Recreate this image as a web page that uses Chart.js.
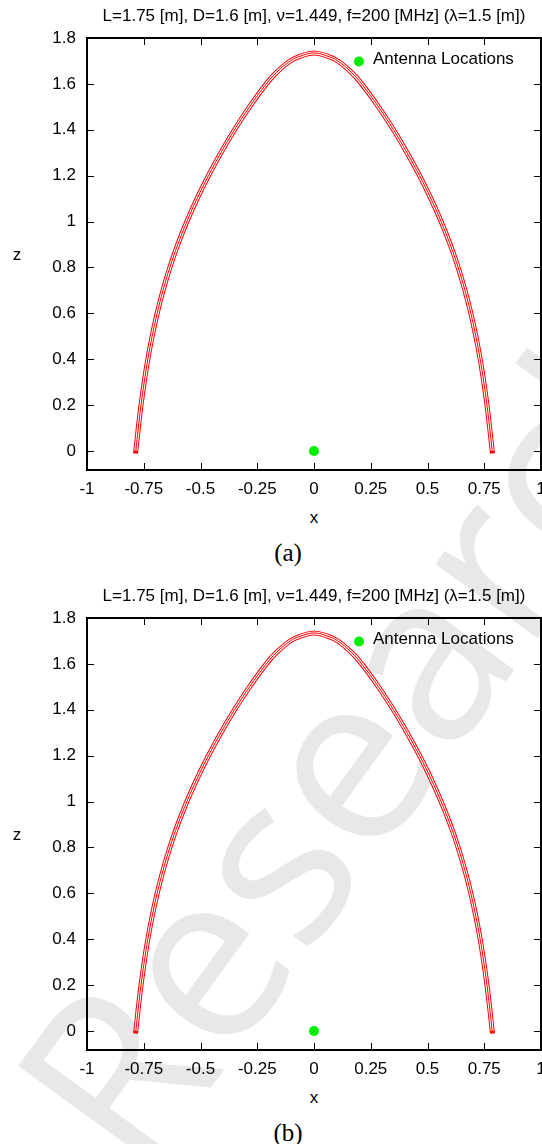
<!DOCTYPE html>
<html><head><meta charset="utf-8">
<script src="https://cdn.jsdelivr.net/npm/chart.js@4.4.1/dist/chart.umd.min.js"></script>
<style>
html,body{margin:0;padding:0;background:#fff;overflow:hidden;width:542px;height:1144px;position:relative;}
.wrap{position:absolute;left:0;width:580px;height:500px;}
.txt{position:absolute;font-family:"Liberation Sans",Arial,sans-serif;color:#000;white-space:nowrap;transform:translate(-50%,-50%);line-height:1;}
.title{font-size:17px;}
.lab{font-size:17px;}
.cap{font-family:"Liberation Serif",serif;font-size:25px;}
.wm{position:absolute;left:0;top:0;font-family:"Open Sans",sans-serif;font-size:236px;line-height:1;color:#e8e8e8;transform-origin:0 0;white-space:nowrap;}
</style></head>
<body>
<div class="wm" style="transform:translate(-28px,1061px) rotate(-54deg)">Research</div>
<div class="wrap" style="top:0"><canvas id="c1"></canvas></div>
<div class="wrap" style="top:580px"><canvas id="c2"></canvas></div>
<div class="txt title" style="left:314px;top:15px">L=1.75 [m], D=1.6 [m], ν=1.449, f=200 [MHz] (λ=1.5 [m])</div>
<div class="txt lab" style="left:17px;top:254px">z</div>
<div class="txt lab" style="left:314px;top:517px">x</div>
<div class="txt cap" style="left:288px;top:552px">(a)</div>
<div class="txt title" style="left:314px;top:595px">L=1.75 [m], D=1.6 [m], ν=1.449, f=200 [MHz] (λ=1.5 [m])</div>
<div class="txt lab" style="left:17px;top:834px">z</div>
<div class="txt lab" style="left:314px;top:1097px">x</div>
<div class="txt cap" style="left:288px;top:1132px">(b)</div>
<script>
// ---- data ----
const curveX = [-0.785,-0.774,-0.762,-0.748,-0.732,-0.713,-0.691,-0.665,-0.635,-0.600,-0.560,-0.515,-0.465,-0.410,-0.350,-0.284,-0.210,-0.165,-0.105,-0.062,0,
                0.062,0.105,0.165,0.210,0.284,0.350,0.410,0.465,0.515,0.560,0.600,0.635,0.665,0.691,0.713,0.732,0.748,0.762,0.774,0.785];
const curveZ = [0,0.1,0.2,0.3,0.4,0.5,0.6,0.7,0.8,0.9,1.0,1.1,1.2,1.3,1.4,1.5,1.6,1.65,1.7,1.72,1.735,
                1.72,1.7,1.65,1.6,1.5,1.4,1.3,1.2,1.1,1.0,0.9,0.8,0.7,0.6,0.5,0.4,0.3,0.2,0.1,0];
const antennaX = [0];
const antennaZ = [0];
const antennaLabel = 'Antenna Locations';
const xTicks = [-1,-0.75,-0.5,-0.25,0,0.25,0.5,0.75,1];
const yTicks = [0,0.2,0.4,0.6,0.8,1,1.2,1.4,1.6,1.8];
const xRange = [-1, 1];
const yRange = [-0.083, 1.8];

const FONT = '"Liberation Sans", Arial, sans-serif';
const curvePts = curveX.map((v,i)=>({x:v, y:curveZ[i]}));
const antPts = antennaX.map((v,i)=>({x:v, y:antennaZ[i]}));

const framePlugin = {
  id:'frame',
  afterDatasetsDraw(chart){
    const {ctx, chartArea:a, scales:{x,y}} = chart;
    ctx.save();
    ctx.strokeStyle='#000'; ctx.lineWidth=1;
    ctx.beginPath();
    x.ticks.forEach(t=>{
      const px = Math.round(x.getPixelForValue(t.value))+0.5;
      if (px <= a.left+2 || px >= a.right-2) return;
      ctx.moveTo(px,a.bottom); ctx.lineTo(px,a.bottom-7);
      ctx.moveTo(px,a.top); ctx.lineTo(px,a.top+7);
    });
    y.ticks.forEach(t=>{
      const py = Math.round(y.getPixelForValue(t.value))+0.5;
      if (py <= a.top+2 || py >= a.bottom-2) return;
      ctx.moveTo(a.left,py); ctx.lineTo(a.left+7,py);
      ctx.moveTo(a.right,py); ctx.lineTo(a.right-7,py);
    });
    ctx.stroke();
    ctx.lineWidth=2;
    ctx.strokeRect(a.left,a.top,a.right-a.left,a.bottom-a.top);
    // key (legend) inside the plot, top right
    const ds = chart.data.datasets.find(d=>d.isKey);
    ctx.fillStyle = ds.backgroundColor;
    ctx.beginPath(); ctx.arc(a.right-182, a.top+23.5, 5, 0, Math.PI*2); ctx.fill();
    ctx.fillStyle='#000';
    ctx.font = '17px ' + FONT;
    ctx.textAlign='left'; ctx.textBaseline='middle';
    ctx.fillText(ds.label, a.right-168, a.top+21);
    ctx.restore();
  }
};

function makeChart(id){
  const tickFont = {family: FONT, size: 17};
  return new Chart(document.getElementById(id), {
    type:'scatter',
    data:{datasets:[
      {label:antennaLabel, isKey:true, data:antPts, showLine:false, pointRadius:5, pointHoverRadius:5, backgroundColor:'#00ee00', borderWidth:0, order:0},
      {label:'inner', data:curvePts, showLine:true, tension:0.4, borderColor:'#ff0000', borderWidth:1, pointRadius:0, fill:false, order:1},
      {label:'gap', data:curvePts, showLine:true, tension:0.4, borderColor:'#ffffff', borderWidth:3, pointRadius:0, fill:false, order:2},
      {label:'outer', data:curvePts, showLine:true, tension:0.4, borderColor:'#ff0000', borderWidth:5, borderCapStyle:'square', pointRadius:0, fill:false, order:3}
    ]},
    options:{
      responsive:true, maintainAspectRatio:false, animation:false,
      layout:{padding:{top:38,right:39,left:0,bottom:0}},
      plugins:{legend:{display:false}, tooltip:{enabled:false}, title:{display:false}},
      scales:{
        x:{type:'linear', min:xRange[0], max:xRange[1],
           afterBuildTicks:s=>{s.ticks = xTicks.map(v=>({value:v}));},
           afterFit:s=>{s.height=30; s.paddingLeft=0; s.paddingRight=0;},
           grid:{display:false, drawTicks:false}, border:{display:false},
           ticks:{padding:9, color:'#000', font:tickFont, maxRotation:0, autoSkip:false, callback:v=>String(v)}},
        y:{type:'linear', min:yRange[0], max:yRange[1],
           afterBuildTicks:s=>{s.ticks = yTicks.map(v=>({value:v}));},
           afterFit:s=>{s.width=87; s.paddingTop=0; s.paddingBottom=0;},
           grid:{display:false, drawTicks:false}, border:{display:false},
           ticks:{padding:11, color:'#000', font:tickFont, autoSkip:false, callback:v=>String(v)}}
      }
    },
    plugins:[framePlugin]
  });
}
makeChart('c1');
makeChart('c2');
</script>
</body></html>
